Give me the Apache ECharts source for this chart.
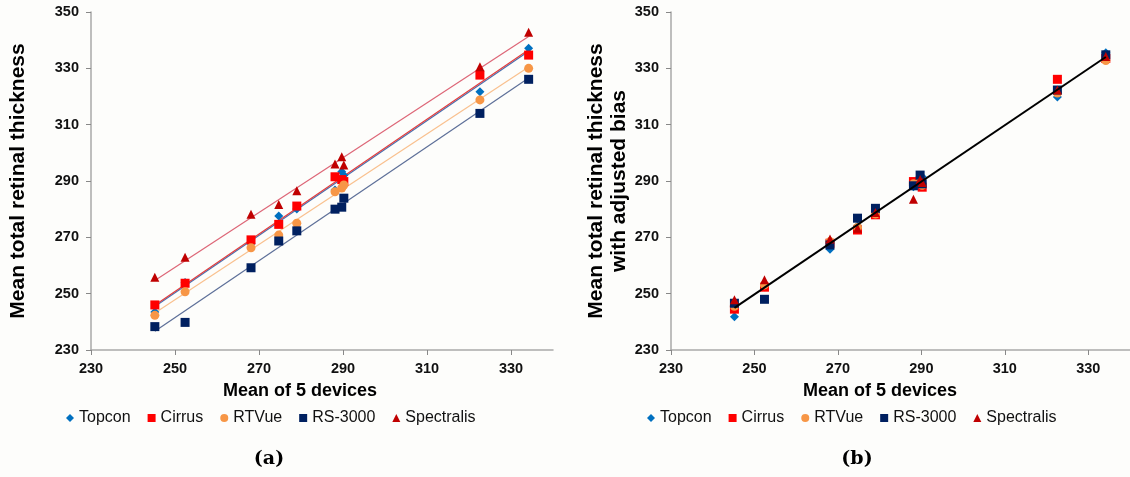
<!DOCTYPE html>
<html><head><meta charset="utf-8">
<script src="https://cdn.jsdelivr.net/npm/echarts@6/dist/echarts.min.js"></script>
<style>html,body{margin:0;padding:0;background:#fdfdfb}#c{width:1130px;height:477px}</style>
</head><body><div id="c"></div>
<script>
// ---- data ----
const devices = ['Topcon', 'Cirrus', 'RTVue', 'RS-3000', 'Spectralis'];
const meanOf5 = [245.2, 252.4, 268.1, 274.7, 279.0, 288.1, 289.7, 290.2, 322.6, 334.2];

const rawTopcon     = [243.5, 254.0, 267.7, 277.6, 280.1, 286.8, 293.3, 292.0, 321.7, 337.1];
const rawCirrus     = [246.0, 253.7, 269.1, 274.6, 281.1, 291.5, 290.5, 289.8, 327.6, 334.7];
const rawRTVue      = [242.3, 250.7, 266.3, 270.8, 275.0, 286.2, 287.5, 288.6, 318.8, 330.0];
const rawRS3000     = [238.3, 239.8, 259.2, 268.7, 272.3, 280.0, 280.7, 283.9, 314.0, 326.1];
const rawSpectralis = [255.8, 262.9, 278.2, 281.7, 286.5, 296.0, 298.6, 295.7, 330.6, 342.8];

const adjTopcon     = [241.8, 252.5, 265.8, 274.0, 279.0, 288.0, 290.5, 291.5, 319.8, 335.5];
const adjCirrus     = [244.5, 252.3, 267.9, 272.6, 278.0, 289.8, 290.0, 287.8, 326.1, 333.5];
const adjRTVue      = [245.5, 253.1, 268.5, 273.5, 278.3, 289.0, 289.5, 288.5, 321.2, 332.8];
const adjRS3000     = [246.6, 248.0, 267.3, 276.8, 280.3, 288.3, 292.1, 289.0, 322.3, 334.8];
const adjSpectralis = [247.8, 254.9, 269.4, 273.2, 278.8, 283.5, 290.5, 289.5, 322.3, 334.2];

const axisMin = 230, axisMaxX = 340, axisMaxY = 350, axisStep = 20;
const xAxisTitle = 'Mean of 5 devices';
const yTitleA = 'Mean total retinal thickness';
const yTitleB = 'Mean total retinal thickness\nwith adjusted bias';
const captions = ['(a)', '(b)'];

// ---- styles ----
const markerColors = ['#0070C0', '#FF0000', '#F79646', '#002060', '#C00000'];
const trendColors  = ['#4a6fae', '#e23c3c', '#f9c08e', '#5d6f98', '#dd6677'];
const symbols = ['diamond', 'rect', 'circle', 'rect', 'triangle'];
const symbolSizes = [9, 9, 9, 9, 9];
const font = "'Liberation Sans', Arial, sans-serif";

const rawSets = [rawTopcon, rawCirrus, rawRTVue, rawRS3000, rawSpectralis];
const adjSets = [adjTopcon, adjCirrus, adjRTVue, adjRS3000, adjSpectralis];

function fit(xs, ys) {
  const n = xs.length;
  let sx = 0, sy = 0, sxx = 0, sxy = 0;
  for (let i = 0; i < n; i++) { sx += xs[i]; sy += ys[i]; sxx += xs[i] * xs[i]; sxy += xs[i] * ys[i]; }
  const b = (n * sxy - sx * sy) / (n * sxx - sx * sx);
  const a = (sy - b * sx) / n;
  const x0 = Math.min(...xs), x1 = Math.max(...xs);
  return [[x0, a + b * x0], [x1, a + b * x1]];
}

const series = [];
rawSets.forEach((ys, k) => {
  series.push({
    type: 'line', xAxisIndex: 0, yAxisIndex: 0, data: fit(meanOf5, ys),
    showSymbol: false, silent: true, z: 1,
    lineStyle: { color: trendColors[k], width: 1.2 }
  });
});
rawSets.forEach((ys, k) => {
  series.push({
    name: devices[k], type: 'scatter', xAxisIndex: 0, yAxisIndex: 0,
    data: meanOf5.map((x, i) => [x, ys[i]]),
    symbol: symbols[k], symbolSize: symbolSizes[k], z: 2,
    itemStyle: { color: markerColors[k], opacity: 1 }
  });
});
const allX = [], allY = [];
adjSets.forEach(ys => ys.forEach((y, i) => { allX.push(meanOf5[i]); allY.push(y); }));
adjSets.forEach((ys, k) => {
  series.push({
    name: devices[k], type: 'scatter', xAxisIndex: 1, yAxisIndex: 1,
    data: meanOf5.map((x, i) => [x, ys[i]]),
    symbol: symbols[k], symbolSize: symbolSizes[k], z: 2,
    itemStyle: { color: markerColors[k], opacity: 1 }
  });
});
series.push({
  type: 'line', xAxisIndex: 1, yAxisIndex: 1, data: fit(allX, allY),
  showSymbol: false, silent: true, z: 3,
  lineStyle: { color: '#000', width: 2 }
});

function xAxis(gi) {
  return {
    type: 'value', gridIndex: gi, min: axisMin, max: axisMaxX, interval: axisStep,
    splitLine: { show: false },
    axisLine: { lineStyle: { color: '#a9a9a9', width: 1.5 } },
    axisTick: { lineStyle: { color: '#888' }, length: 5 },
    axisLabel: { showMaxLabel: false, margin: 11, color: '#111', fontFamily: font, fontWeight: 'bold', fontSize: 14.5 }
  };
}
function yAxis(gi, name, gap) {
  return {
    type: 'value', gridIndex: gi, min: axisMin, max: axisMaxY, interval: axisStep,
    splitLine: { show: false },
    axisLine: { show: true, lineStyle: { color: '#a9a9a9', width: 1.5 } },
    axisTick: { show: true, lineStyle: { color: '#888' }, length: 5 },
    axisLabel: { margin: 12, color: '#111', fontFamily: font, fontWeight: 'bold', fontSize: 14.5 },
    name: name, nameLocation: 'middle', nameGap: gap, nameRotate: 90,
    nameTextStyle: { color: '#000', fontFamily: font, fontWeight: 'bold', fontSize: 21, lineHeight: 23 }
  };
}
const legendBase = {
  data: devices.map((d, k) => ({ name: d, icon: symbols[k] })),
  itemWidth: 8, itemHeight: 8, itemGap: 17, itemTextGap: 5,
  textStyle: { fontFamily: font, fontSize: 16, color: '#111' },
  selectedMode: false, top: 405
};

const chart = echarts.init(document.getElementById('c'));
chart.setOption({
  backgroundColor: '#fdfdfb',
  animation: false,
  grid: [
    { left: 91, top: 12, width: 462, height: 338 },
    { left: 671, top: 12, width: 459, height: 338 }
  ],
  xAxis: [xAxis(0), xAxis(1)],
  yAxis: [yAxis(0, yTitleA, 61), yAxis(1, yTitleB, 39)],
  legend: [
    Object.assign({}, legendBase, { left: 61 }),
    Object.assign({}, legendBase, { left: 642 })
  ],
  graphic: [
    { type: 'text', x: 300, y: 391, style: { text: xAxisTitle, fill: '#000', font: "bold 18px 'Liberation Sans', Arial", textAlign: 'center', textVerticalAlign: 'middle' } },
    { type: 'text', x: 880, y: 391, style: { text: xAxisTitle, fill: '#000', font: "bold 18px 'Liberation Sans', Arial", textAlign: 'center', textVerticalAlign: 'middle' } },
    { type: 'text', x: 269, y: 459, style: { text: captions[0], fill: '#000', font: "bold 19px 'DejaVu Serif', 'Liberation Serif', serif", textAlign: 'center', textVerticalAlign: 'middle' } },
    { type: 'text', x: 857, y: 459, style: { text: captions[1], fill: '#000', font: "bold 19px 'DejaVu Serif', 'Liberation Serif', serif", textAlign: 'center', textVerticalAlign: 'middle' } }
  ],
  series: series
});
</script>
</body></html>
